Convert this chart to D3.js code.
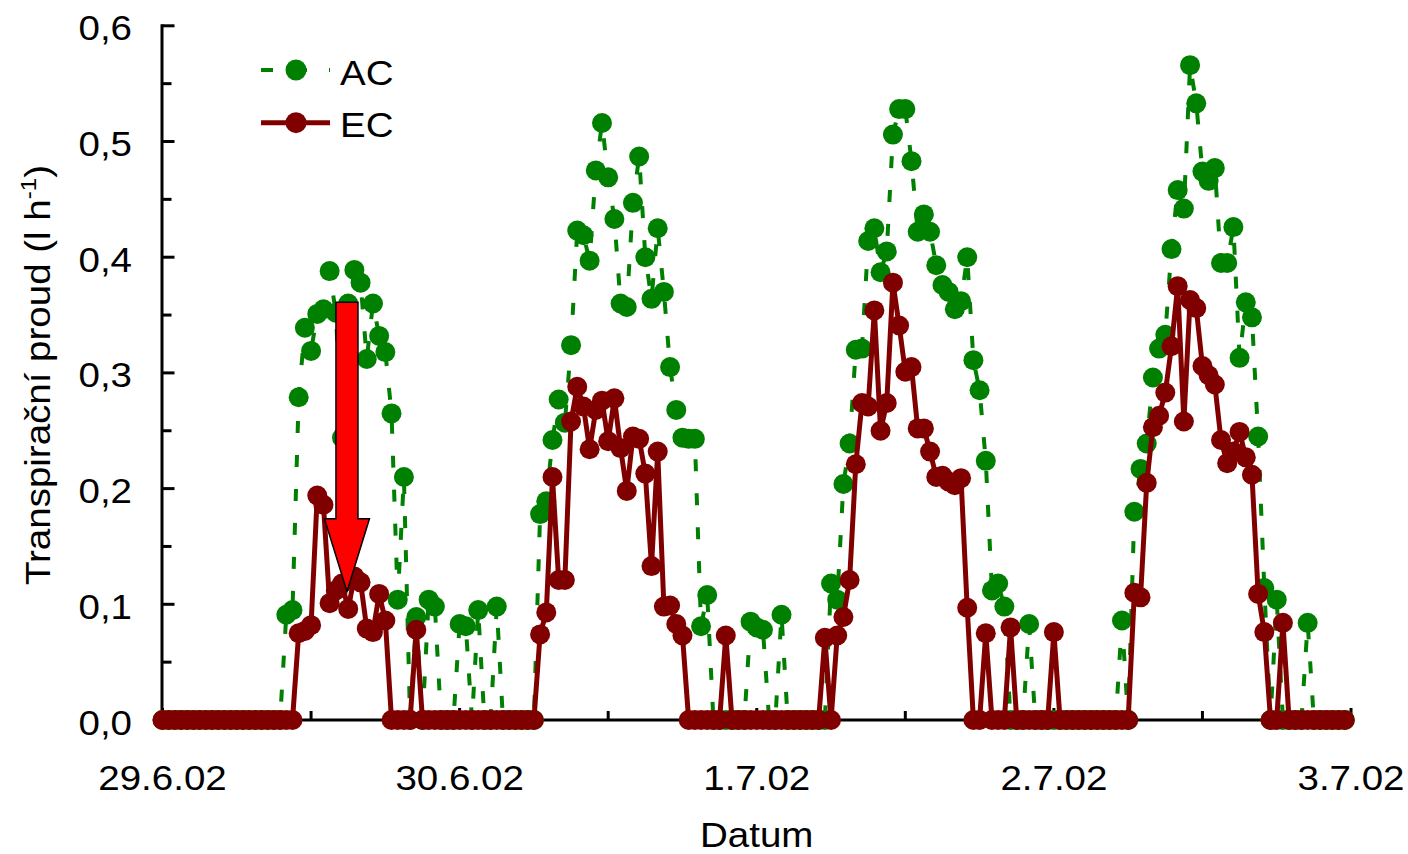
<!DOCTYPE html>
<html><head><meta charset="utf-8">
<script src="https://cdn.jsdelivr.net/npm/d3@7"></script>
<style>
body{margin:0;background:#fff}
svg{display:block}
text{font-family:"Liberation Sans",Arial,Helvetica,sans-serif;fill:#000}
</style>
</head><body>
<svg id="chart" width="1408" height="854"></svg>
<script>
// ---- data (half-hourly samples from 29.6.02 00:00) ----
const stepHours = 0.5;
const seriesNames = ["AC", "EC"];
const ac = [
  0,0,0,0,0,0,0,0,0,0, 0,0,0,0,0,0,0,0,0,0,
  0.091,0.095,0.279,0.339,0.319,0.351,0.355,0.388,0.352,0.244,
  0.360,0.389,0.378,0.312,0.360,0.332,0.318,0.265,0.104,0.210,
  0,0.089,0,0.104,0.098,0,0,0,0.083,0.081,
  0,0.095,0,0,0.098,0,0,0,0,0,
  0,0.178,0.189,0.242,0.277,0.257,0.324,0.423,0.419,0.397,
  0.475,0.516,0.469,0.433,0.360,0.357,0.447,0.487,0.400,0.364,
  0.425,0.370,0.305,0.268,0.244,0.243,0.243,0.081,0.108,0,
  0,0,0,0,0,0.085,0.080,0.078,0,0,
  0.091,0,0,0,0,0,0,0,0.118,0.104,
  0.204,0.239,0.320,0.321,0.414,0.425,0.387,0.405,0.506,0.528,
  0.528,0.483,0.422,0.437,0.422,0.393,0.376,0.370,0.355,0.362,
  0.400,0.311,0.285,0.224,0.112,0.118,0.098,0,0,0,
  0.083,0,0,0,0,0,0,0,0,0,
  0,0,0,0,0,0.086,0,0.180,0.217,0.239,
  0.296,0.321,0.333,0.407,0.458,0.442,0.566,0.533,0.474,0.466,
  0.477,0.395,0.395,0.426,0.313,0.361,0.348,0.245,0.114,0,
  0.104,0,0,0,0,0.084,0,0,0,0,
  0,0
];
const ec = [
  0,0,0,0,0,0,0,0,0,0, 0,0,0,0,0,0,0,0,0,0,
  0,0,0.075,0.077,0.082,0.194,0.186,0.101,0.112,0.118,
  0.096,0.124,0.119,0.079,0.076,0.109,0.086,0,0,0,
  0,0.078,0,0,0,0,0,0,0,0,
  0,0,0,0,0,0,0,0,0,0,
  0,0.074,0.093,0.210,0.121,0.121,0.258,0.288,0.271,0.234,
  0.268,0.276,0.241,0.278,0.235,0.198,0.245,0.243,0.213,0.133,
  0.232,0.098,0.099,0.083,0.073,0,0,0,0,0,
  0,0.073,0,0,0,0,0,0,0,0,
  0,0,0,0,0,0,0,0.071,0,0.073,
  0.089,0.121,0.221,0.274,0.271,0.354,0.250,0.274,0.378,0.341,
  0.301,0.305,0.252,0.252,0.232,0.210,0.211,0.206,0.203,0.209,
  0.097,0,0,0.075,0,0,0,0.080,0,0,
  0,0,0,0,0.076,0,0,0,0,0,
  0,0,0,0,0,0,0,0.110,0.106,0.205,
  0.253,0.263,0.283,0.323,0.375,0.258,0.363,0.356,0.306,0.298,
  0.290,0.242,0.222,0.232,0.249,0.227,0.212,0.109,0.076,0,
  0,0.084,0,0,0,0,0,0,0,0,
  0,0
];
const dayTicks = [0, 24, 48, 72, 96];
const dayLabels = ["29.6.02", "30.6.02", "1.7.02", "2.7.02", "3.7.02"];
const halfDayTicks = [12, 36, 60, 84];
const yTicks = [0, 0.1, 0.2, 0.3, 0.4, 0.5, 0.6];
const yTickLabels = ["0,0", "0,1", "0,2", "0,3", "0,4", "0,5", "0,6"];
const yMinorTicks = [0.05, 0.15, 0.25, 0.35, 0.45, 0.55];
const xTitle = "Datum";
const yTitleMain = "Transpirační proud (l h";
const yTitleSup = "-1";
const yTitleEnd = ")";
// annotation arrow (time in hours, values in l/h)
const arrowTime = 14.9, arrowFrom = 0.361, arrowHeadStart = 0.174, arrowTo = 0.111;

// ---- drawing ----
const svg = d3.select("#chart");
const x = d3.scaleLinear().domain([0, 96]).range([162.5, 1351]);
const y = d3.scaleLinear().domain([0, 0.6]).range([720, 25.8]);
const GREEN = "#008000", RED = "#800000";
const FS = 35, SX = 1.1;

function label(g, px, py, str, anchor, size) {
  return g.append("text")
    .attr("transform", `translate(${px},${py}) scale(${SX},1)`)
    .attr("text-anchor", anchor)
    .style("font-size", (size || FS) + "px")
    .text(str);
}

// axes
const axisColor = "#000";
const gx = svg.append("g");
gx.append("line").attr("x1", x(0) - 1.5).attr("x2", x(96) + 1).attr("y1", y(0)).attr("y2", y(0))
  .attr("stroke", axisColor).attr("stroke-width", 3);
gx.selectAll("line.maj").data(dayTicks).join("line").attr("class", "maj")
  .attr("x1", d => x(d)).attr("x2", d => x(d)).attr("y1", y(0)).attr("y2", y(0) - 12)
  .attr("stroke", axisColor).attr("stroke-width", 3);
gx.selectAll("line.min").data(halfDayTicks).join("line").attr("class", "min")
  .attr("x1", d => x(d)).attr("x2", d => x(d)).attr("y1", y(0)).attr("y2", y(0) - 9)
  .attr("stroke", axisColor).attr("stroke-width", 3);
dayTicks.forEach((d, i) => label(gx, x(d), 790, dayLabels[i], "middle"));
label(gx, x(48), 847, xTitle, "middle");

const gy = svg.append("g");
gy.append("line").attr("x1", x(0) - 0.5).attr("x2", x(0) - 0.5).attr("y1", y(0) + 1.5).attr("y2", y(0.6) - 1.5)
  .attr("stroke", axisColor).attr("stroke-width", 3);
gy.selectAll("line.maj").data(yTicks).join("line").attr("class", "maj")
  .attr("x1", x(0) - 0.5).attr("x2", x(0) + 12).attr("y1", d => y(d)).attr("y2", d => y(d))
  .attr("stroke", axisColor).attr("stroke-width", 3);
gy.selectAll("line.min").data(yMinorTicks).join("line").attr("class", "min")
  .attr("x1", x(0) - 0.5).attr("x2", x(0) + 9).attr("y1", d => y(d)).attr("y2", d => y(d))
  .attr("stroke", axisColor).attr("stroke-width", 3);
yTicks.forEach((d, i) => label(gy, 132, y(d) + 14.5, yTickLabels[i], "end"));

const yt = gy.append("text")
  .attr("transform", `translate(50,375) rotate(-90) scale(${SX},1)`)
  .attr("text-anchor", "middle").style("font-size", FS + "px");
yt.append("tspan").text(yTitleMain);
yt.append("tspan").attr("dy", -14).style("font-size", "22px").text(yTitleSup);
yt.append("tspan").attr("dy", 14).text(yTitleEnd);

// series
const acPts = ac.map((v, i) => [i * stepHours, v]);
const ecPts = ec.map((v, i) => [i * stepHours, v]);
const line = d3.line().x(d => x(d[0])).y(d => y(d[1]));

const gAC = svg.append("g");
gAC.append("path").attr("d", line(acPts)).attr("fill", "none")
  .attr("stroke", GREEN).attr("stroke-width", 4).attr("stroke-dasharray", "12,22");
gAC.selectAll("circle").data(acPts).join("circle")
  .attr("cx", d => x(d[0])).attr("cy", d => y(d[1])).attr("r", 10).attr("fill", GREEN);

const gEC = svg.append("g");
gEC.append("path").attr("d", line(ecPts)).attr("fill", "none")
  .attr("stroke", RED).attr("stroke-width", 5).attr("stroke-linejoin", "round");
gEC.selectAll("circle").data(ecPts).join("circle")
  .attr("cx", d => x(d[0])).attr("cy", d => y(d[1])).attr("r", 10).attr("fill", RED);

// arrow annotation
const ax = x(arrowTime), shaftW = 11, headW = 22.5;
const arrowPath = d3.path();
arrowPath.moveTo(ax - shaftW, y(arrowFrom));
arrowPath.lineTo(ax + shaftW, y(arrowFrom));
arrowPath.lineTo(ax + shaftW, y(arrowHeadStart));
arrowPath.lineTo(ax + headW, y(arrowHeadStart));
arrowPath.lineTo(ax, y(arrowTo));
arrowPath.lineTo(ax - headW, y(arrowHeadStart));
arrowPath.lineTo(ax - shaftW, y(arrowHeadStart));
arrowPath.closePath();
svg.append("path").attr("d", arrowPath.toString()).attr("fill", "#ff0000")
  .attr("stroke", "#000").attr("stroke-width", 1.5);

// legend
const lg = svg.append("g");
const legendRows = [
  {name: seriesNames[0], color: GREEN, dash: "12,22", w: 4, cy: 70},
  {name: seriesNames[1], color: RED, dash: null, w: 5, cy: 122.7}
];
legendRows.forEach(r => {
  lg.append("line").attr("x1", 261).attr("x2", 330).attr("y1", r.cy).attr("y2", r.cy)
    .attr("stroke", r.color).attr("stroke-width", r.w).attr("stroke-dasharray", r.dash);
  lg.append("circle").attr("cx", 296).attr("cy", r.cy).attr("r", 10.5).attr("fill", r.color);
  label(lg, 340, r.cy + 14.5, r.name, "start");
});
</script>
</body></html>
